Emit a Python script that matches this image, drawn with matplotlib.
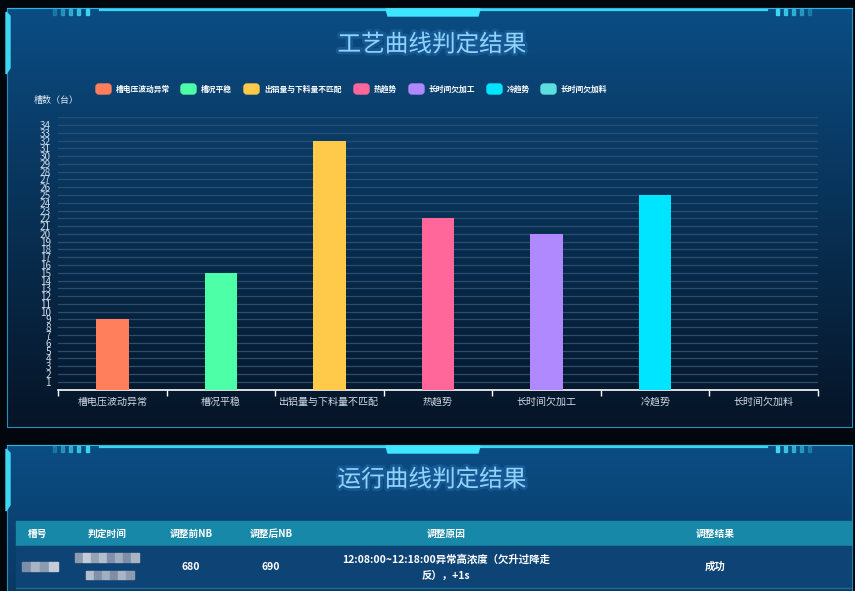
import numpy as np
import matplotlib
matplotlib.use('Agg')
import matplotlib.pyplot as plt
from matplotlib.patches import Rectangle, FancyBboxPatch, Polygon
import matplotlib.patheffects as pe

plt.rcParams['font.family'] = ['Noto Sans CJK SC', 'DejaVu Sans']

# ---- data ----
categories = ['槽电压波动异常', '槽况平稳', '出铝量与下料量不匹配', '热趋势',
              '长时间欠加工', '冷趋势', '长时间欠加料']
counts = [9, 15, 32, 22, 20, 25, 0]
colors = ['#ff7f5c', '#4dffa6', '#ffc94a', '#ff6699', '#b088ff', '#00e5ff', '#5cdede']

title_top = '工艺曲线判定结果'
title_bottom = '运行曲线判定结果'
y_label = '槽数（台）'

table_header = ['槽号', '判定时间', '调整前NB', '调整后NB', '调整原因', '调整结果']
row_before = '680'
row_after = '690'
row_reason = '12:08:00~12:18:00异常高浓度（欠升过降走\n反），+1s'
row_result = '成功'

W, H = 855, 591
fig = plt.figure(figsize=(W / 100, H / 100), dpi=100)
fig.patch.set_facecolor('#02070d')

# background / decoration axes in pixel coordinates
bg = fig.add_axes([0, 0, 1, 1])
bg.set_xlim(0, W)
bg.set_ylim(H, 0)
bg.axis('off')


def panel(y0, y1, full_h):
    top = np.array([11, 77, 132]) / 255
    bot = np.array([6, 20, 38]) / 255
    t = np.linspace(0, (y1 - y0) / full_h, 200)[:, None]
    grad = top + (bot - top) * t
    grad = grad[:, None, :].repeat(2, axis=1)
    bg.imshow(grad, extent=[7, 852, y1, y0], aspect='auto', zorder=0,
              interpolation='bilinear')
    # border
    bg.add_patch(Rectangle((7, y0), 845, y1 - y0, fill=False,
                           edgecolor='#2a8fc0', lw=0.8, zorder=2))
    bg.plot([100, 767], [y0 + 1.5, y0 + 1.5], color='#3fd6f0', lw=1.6, zorder=3)
    bg.plot([7, 852], [y0, y0], color='#2ab8e0', lw=0.8, zorder=3)
    # left bright edge
    bg.add_patch(Polygon([[6, y0 + 4], [10, y0 + 8], [10, y0 + 60], [6, y0 + 66]],
                         closed=True, color='#3fd6f0', zorder=3))
    # centre trapezoid
    bg.add_patch(Polygon([[386, y0 + 1], [480, y0 + 1], [478, y0 + 8], [388, y0 + 8]],
                         closed=True, color='#3fe6ff', zorder=3))
    # little ticks
    for i, x in enumerate([53, 61, 69, 77, 86]):
        bg.add_patch(Rectangle((x, y0 + 1), 3, 6, color='#3fd6f0',
                               alpha=0.25 + 0.18 * i, zorder=3))
    for i, x in enumerate([776, 784, 792, 800, 808]):
        bg.add_patch(Rectangle((x, y0 + 1), 3, 6, color='#3fd6f0',
                               alpha=1.0 - 0.18 * i, zorder=3))


panel(8, 427, 420)
panel(445, 600, 420)

glow = [pe.withStroke(linewidth=4, foreground='#2f7fc8', alpha=0.3)]
bg.text(432, 45, title_top, ha='center', va='center', fontsize=17,
        color='#8fd2fa', path_effects=glow, zorder=5)
bg.text(432, 480, title_bottom, ha='center', va='center', fontsize=17,
        color='#8fd2fa', path_effects=glow, zorder=5)

# legend (drawn manually)
leg_x = [96, 181, 244, 354, 409, 487, 541]
for x, name, c in zip(leg_x, categories, colors):
    bg.add_patch(FancyBboxPatch((x, 84), 15, 10, boxstyle='round,pad=0,rounding_size=3',
                                color=c, zorder=5))
    bg.text(x + 20, 89.5, name, ha='left', va='center', fontsize=5.6,
            color='white', fontweight='bold', zorder=5)

bg.text(34, 100, y_label, ha='left', va='center', fontsize=6.5,
        color='#e0e8f0', zorder=5)

# table
bg.add_patch(Rectangle((16, 521), 835, 25, color='#1788a8', zorder=4))
bg.add_patch(Rectangle((16, 546), 835, 42, color='#0e4475', zorder=4))
bg.plot([16, 851], [588, 588], color='#1a6a9a', lw=1, zorder=5)
col_x = [38, 107, 191, 271, 446, 715]
for x, h in zip(col_x, table_header):
    bg.text(x, 533.5, h, ha='center', va='center', fontsize=7, color='white',
            fontweight='bold', zorder=6)
bg.text(191, 567, row_before, ha='center', va='center', fontsize=7.5,
        color='white', fontweight='bold', zorder=6)
bg.text(271, 567, row_after, ha='center', va='center', fontsize=7.5,
        color='white', fontweight='bold', zorder=6)
bg.text(446, 568, row_reason, ha='center', va='center', fontsize=7.5,
        color='white', fontweight='bold', linespacing=1.9, zorder=6)
bg.text(715, 567, row_result, ha='center', va='center', fontsize=7.5,
        color='white', fontweight='bold', zorder=6)

# pixelated (blurred) cells
greys = ['#7d8ea6', '#a9b4c4', '#8c9bb0', '#c3ccd8', '#95a3b7', '#b4bfcd', '#7f90a8', '#a0aec0']
for i, x in enumerate(range(22, 58, 9)):
    bg.add_patch(Rectangle((x, 562), 9, 9, color=greys[i % len(greys)], zorder=6))
for i, x in enumerate(range(75, 139, 8)):
    bg.add_patch(Rectangle((x, 553), 8, 9, color=greys[(i + 2) % len(greys)], zorder=6))
for i, x in enumerate(range(86, 130, 8)):
    bg.add_patch(Rectangle((x, 571), 8, 8, color=greys[(i + 5) % len(greys)], zorder=6))

# ---- bar chart ----
ax = fig.add_axes([58 / W, 1 - 389.5 / H, 760 / W, (389.5 - 117.2) / H])
ax.patch.set_alpha(0)
x = np.arange(len(categories))
ax.bar(x, counts, width=0.3, color=colors[:len(counts)], zorder=3)
ax.set_xlim(-0.5, len(categories) - 0.5)
ax.set_ylim(0, 35)
ax.set_yticks(range(1, 36))
ax.set_yticklabels([str(i) for i in range(1, 35)] + [''])
ax.grid(axis='y', color='#2a4e70', lw=0.9, zorder=0)
ax.tick_params(axis='y', length=0, pad=5, labelsize=7.2, labelcolor='#d0dae6')
ax.set_xticks(x)
ax.set_xticklabels(categories)
ax.tick_params(axis='x', which='major', length=0, pad=5, labelsize=7.2,
               labelcolor='#d0dae6')
ax.set_xticks(np.arange(-0.5, len(categories)), minor=True)
ax.tick_params(axis='x', which='minor', length=4, color='white', width=1)
for s in ['top', 'right', 'left']:
    ax.spines[s].set_visible(False)
ax.spines['bottom'].set_color('white')
ax.spines['bottom'].set_linewidth(1.2)

fig.savefig('out.png', dpi=100, facecolor=fig.get_facecolor())
